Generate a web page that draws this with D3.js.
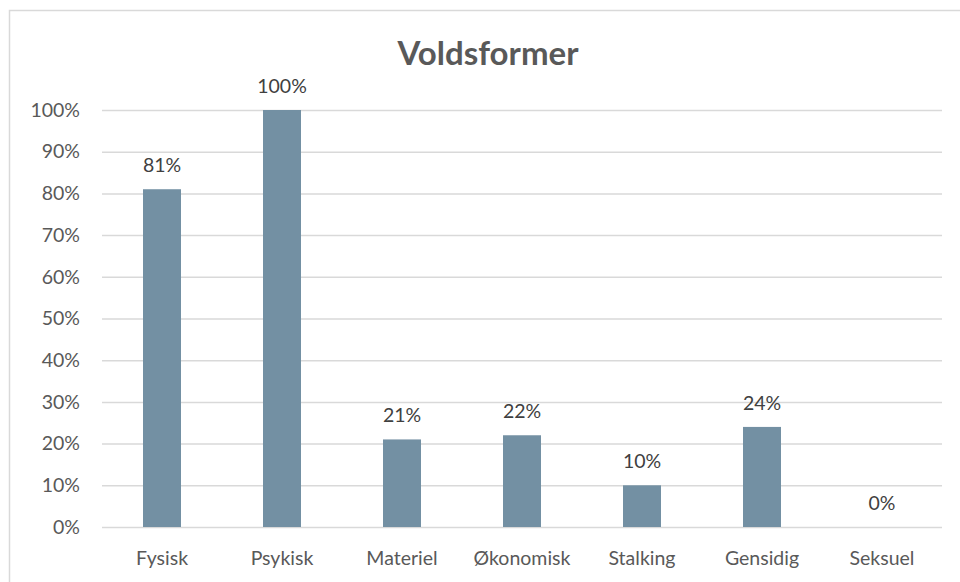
<!DOCTYPE html>
<html>
<head>
<meta charset="utf-8">
<script src="https://cdn.jsdelivr.net/npm/d3@7"></script>
<style>
    body { margin: 0; background: #fff; }
    svg text { font-family: Lato, "Open Sans", sans-serif; }
</style>
</head>
<body>
<div id="chart"></div>
<script>
//DATA
let categories = ['Fysisk', 'Psykisk', 'Materiel', 'Økonomisk', 'Stalking', 'Gensidig', 'Seksuel'];
let values = [81, 100, 21, 22, 10, 24, 0];
let yTicks = [0, 10, 20, 30, 40, 50, 60, 70, 80, 90, 100];
let title = 'Voldsformer';

//VARIABLES
let width = 960, height = 582;
let margin = {top: 110, right: 18, bottom: 55, left: 102};
let barColor = '#7390a3';
let fontSize = '19.5px';

let svg = d3.select('#chart')
    .append('svg')
        .attr('width', width)
        .attr('height', height);

//Chart border
svg.append('rect')
    .attr('x', 9.5)
    .attr('y', 10.5)
    .attr('width', width)
    .attr('height', height)
    .attr('fill', 'none')
    .attr('stroke', '#d9d9d9')
    .attr('stroke-width', 1.5);

let chart = svg.append('g')
    .attr('transform', 'translate(' + margin.left + ',' + margin.top + ')');

let innerW = width - margin.left - margin.right;
let innerH = 527 - margin.top;

//Scales
let x = d3.scaleBand()
    .domain(categories)
    .range([0, innerW]);

let y = d3.scaleLinear()
    .domain([0, 100])
    .range([innerH, 0]);

//Y Axis with gridlines
chart.append('g')
    .attr('class', 'y_axis')
    .call(d3.axisLeft(y).tickValues(yTicks).tickFormat(function(d) { return d + '%'; }))
    .call(function(g) { g.select('.domain').remove(); })
    .call(function(g) {
        g.selectAll('.tick line')
            .attr('x1', 0)
            .attr('x2', innerW)
            .attr('stroke', '#d9d9d9')
            .attr('stroke-width', 1.5);
        g.selectAll('.tick text')
            .attr('x', -22)
            .attr('fill', '#595959')
            .style('font-size', fontSize);
    });

//X Axis
chart.append('g')
    .attr('class', 'x_axis')
    .attr('transform', 'translate(0,' + innerH + ')')
    .call(d3.axisBottom(x).tickSize(0))
    .call(function(g) { g.select('.domain').remove(); })
    .call(function(g) {
        g.selectAll('.tick text')
            .attr('y', 24)
            .attr('fill', '#595959')
            .style('font-size', fontSize);
    });

//Bars
let barW = 38;
chart.selectAll('.bar')
    .data(values)
    .enter()
    .append('rect')
    .attr('class', 'bar')
    .attr('x', function(d, i) { return x(categories[i]) + x.bandwidth() / 2 - barW / 2; })
    .attr('y', function(d) { return y(d); })
    .attr('width', barW)
    .attr('height', function(d) { return innerH - y(d); })
    .attr('fill', barColor);

//Data labels
chart.selectAll('.label')
    .data(values)
    .enter()
    .append('text')
    .attr('class', 'label')
    .attr('x', function(d, i) { return x(categories[i]) + x.bandwidth() / 2; })
    .attr('y', function(d) { return y(d) - 17; })
    .attr('text-anchor', 'middle')
    .attr('fill', '#404040')
    .style('font-size', fontSize)
    .text(function(d) { return d + '%'; });

//Title
svg.append('text')
    .attr('x', 488)
    .attr('y', 65)
    .attr('text-anchor', 'middle')
    .attr('fill', '#595959')
    .style('font-size', '33px')
    .style('font-weight', 'bold')
    .text(title);
</script>
</body>
</html>
